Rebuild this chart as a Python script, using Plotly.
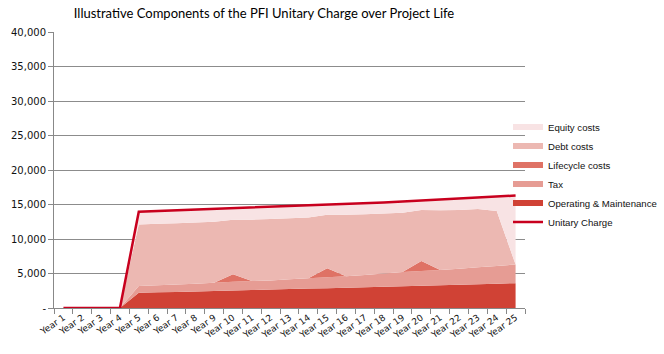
import plotly.graph_objects as go

years = [f"Year {i}" for i in range(1, 26)]

om = [0, 0, 0, 0, 2200, 2270, 2330, 2400, 2470, 2540, 2600, 2670, 2740, 2810, 2880,
      2950, 3020, 3090, 3160, 3230, 3300, 3380, 3450, 3530, 3600]
tax = [0, 0, 0, 0, 1000, 1030, 1070, 1100, 1180, 1260, 1300, 1330, 1410, 1490, 1570,
       1650, 1780, 1910, 2040, 2120, 2200, 2320, 2450, 2570, 2700]
lifecycle = [0, 0, 0, 0, 0, 0, 0, 0, 0, 1100, 0, 0, 0, 0, 1300,
             0, 0, 0, 0, 1450, 0, 0, 0, 0, 0]
debt = [0, 0, 0, 0, 8900, 8900, 8900, 8900, 8850, 7900, 8900, 8900, 8850, 8800, 7750,
        8900, 8800, 8700, 8600, 7400, 8650, 8500, 8450, 7950, 0]
equity = [0, 0, 0, 0, 1850, 1850, 1850, 1850, 1850, 1600, 1700, 1700, 1700, 1700, 1450,
          1550, 1600, 1600, 1650, 1400, 1550, 1650, 1650, 2100, 10000]
unitary = [0, 0, 0, 0, 13950, 14050, 14150, 14250, 14350, 14400, 14500, 14600, 14700, 14800, 14950,
           15050, 15200, 15300, 15450, 15600, 15700, 15850, 16000, 16150, 16300]

ytick_vals = [0, 5000, 10000, 15000, 20000, 25000, 30000, 35000, 40000]
ytick_text = ["-", "5,000", "10,000", "15,000", "20,000", "25,000", "30,000", "35,000", "40,000"]

fig = go.Figure()
areas = [
    ("Operating & Maintenance", om, "#D04235", 5),
    ("Tax", tax, "#E69C94", 4),
    ("Lifecycle costs", lifecycle, "#DF7265", 3),
    ("Debt costs", debt, "#ECB8B2", 2),
    ("Equity costs", equity, "#F8E3E4", 1),
]
for name, vals, col, rank in areas:
    fig.add_trace(go.Scatter(
        x=years, y=vals, name=name, stackgroup="one", mode="none",
        fillcolor=col, legendrank=rank,
    ))
fig.add_trace(go.Scatter(
    x=years, y=unitary, name="Unitary Charge", mode="lines",
    line=dict(color="#C8001E", width=2.5), legendrank=6,
))

fig.update_layout(
    width=664, height=354,
    margin=dict(l=54, r=139, t=32, b=46, autoexpand=False),
    paper_bgcolor="white", plot_bgcolor="white",
    title=dict(
        text="Illustrative Components of the PFI Unitary Charge over Project Life",
        x=264 / 664, xanchor="center", y=1 - 13 / 354, yanchor="middle",
        font=dict(family="Lato", size=13, color="#000000"),
    ),
    legend=dict(
        x=(508 - 54) / 471, xanchor="left", y=0.708, yanchor="top",
        traceorder="normal", bgcolor="rgba(0,0,0,0)",
        font=dict(family="Liberation Sans", size=9.6, color="#111111"),
        itemwidth=30, tracegroupgap=0,
    ),
    showlegend=True,
)
fig.update_xaxes(
    type="category", range=[-0.5, 24.5], tickangle=-35,
    tickfont=dict(family="DejaVu Sans", size=9, color="#111111"),
    showline=True, linecolor="#888888", linewidth=1,
    ticks="outside", ticklen=5, tickcolor="#888888", tickson="boundaries",
    showgrid=False,
)
fig.update_yaxes(
    range=[0, 40000], tickvals=ytick_vals, ticktext=ytick_text,
    tickfont=dict(family="DejaVu Sans", size=10, color="#111111"),
    showline=True, linecolor="#888888", linewidth=1,
    ticks="outside", ticklen=5, tickcolor="#888888",
    showgrid=True, gridcolor="#8C8C8C", gridwidth=1, zeroline=False,
)

fig.write_html("out.html")
